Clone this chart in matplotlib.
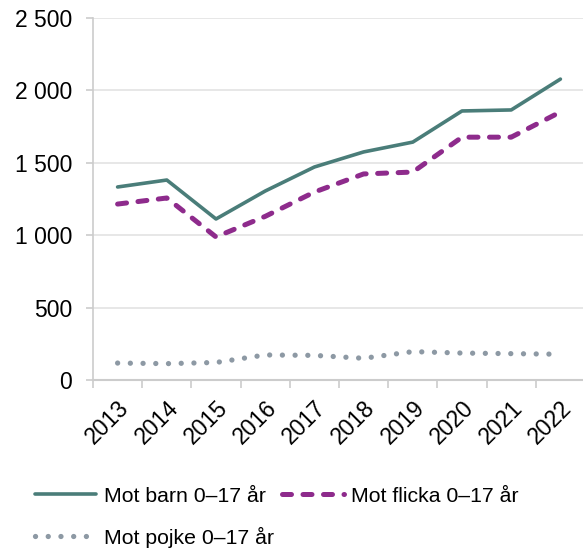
import matplotlib
matplotlib.use("Agg")
import matplotlib.pyplot as plt
from matplotlib.ticker import FuncFormatter

plt.rcParams['font.family'] = ['Liberation Sans', 'DejaVu Sans']

years = ["2013", "2014", "2015", "2016", "2017", "2018", "2019", "2020", "2021", "2022"]
barn = [1333, 1381, 1112, 1305, 1471, 1575, 1643, 1858, 1865, 2078]
flicka = [1215, 1257, 988, 1130, 1298, 1423, 1436, 1677, 1677, 1851]
pojke = [117, 113, 121, 173, 170, 150, 196, 186, 182, 178]
labels = ["Mot barn 0\u201317 år", "Mot flicka 0\u201317 år", "Mot pojke 0\u201317 år"]

W, H = 583, 551
fig = plt.figure(figsize=(W / 100, H / 100), dpi=100)
ax = fig.add_axes([93 / W, 1 - 380 / H, (585 - 93) / W, (380 - 18) / H])

x = list(range(len(years)))
l1, = ax.plot(x, barn, color="#4a7d79", lw=2.6, solid_capstyle="round")
l2, = ax.plot(x, flicka, color="#8e2b8c", lw=3.6, dashes=(1.8, 2.3), dash_capstyle="round")
l3, = ax.plot(x, pojke, color="#8d99a4", lw=3.8, dashes=(0.01, 2.4), dash_capstyle="round")

ax.set_xlim(-0.5, 9.5)
ax.set_ylim(0, 2500)
ax.set_yticks([0, 500, 1000, 1500, 2000, 2500])
ax.yaxis.set_major_formatter(FuncFormatter(lambda v, p: f"{int(v):,}".replace(",", " ")))
ax.grid(axis="y", color="#e3e3e3", lw=1.2)
ax.set_axisbelow(True)
for s in ["top", "right"]:
    ax.spines[s].set_visible(False)
ax.spines["left"].set_color("#cccccc")
ax.spines["bottom"].set_color("#cccccc")
ax.spines["left"].set_linewidth(1.2)
ax.spines["bottom"].set_linewidth(1.5)

ax.set_xticks([i - 0.5 for i in range(11)], minor=False)
ax.set_xticklabels([])
ax.tick_params(axis="x", which="major", length=6, color="#cccccc", width=1.2)
ax.set_xticks(x, minor=True)
ax.set_xticklabels(years, minor=True, rotation=45, ha="right", va="top",
                   rotation_mode="anchor", fontsize=16.5)
ax.tick_params(axis="x", which="minor", length=0, pad=12)
ax.tick_params(axis="y", length=5, color="#cccccc", width=1.2, pad=10, labelsize=16.5)

handles = [l1, l3, l2]
hl = [labels[0], labels[2], labels[1]]
fig.legend(handles, hl, loc="upper left", bbox_to_anchor=(26 / W, 1 - 478 / H),
           ncol=2, frameon=False, fontsize=15.3, handlelength=2.9, handletextpad=0.35,
           columnspacing=0.4, labelspacing=1.0, borderaxespad=0)

fig.savefig("out.png", dpi=100)
